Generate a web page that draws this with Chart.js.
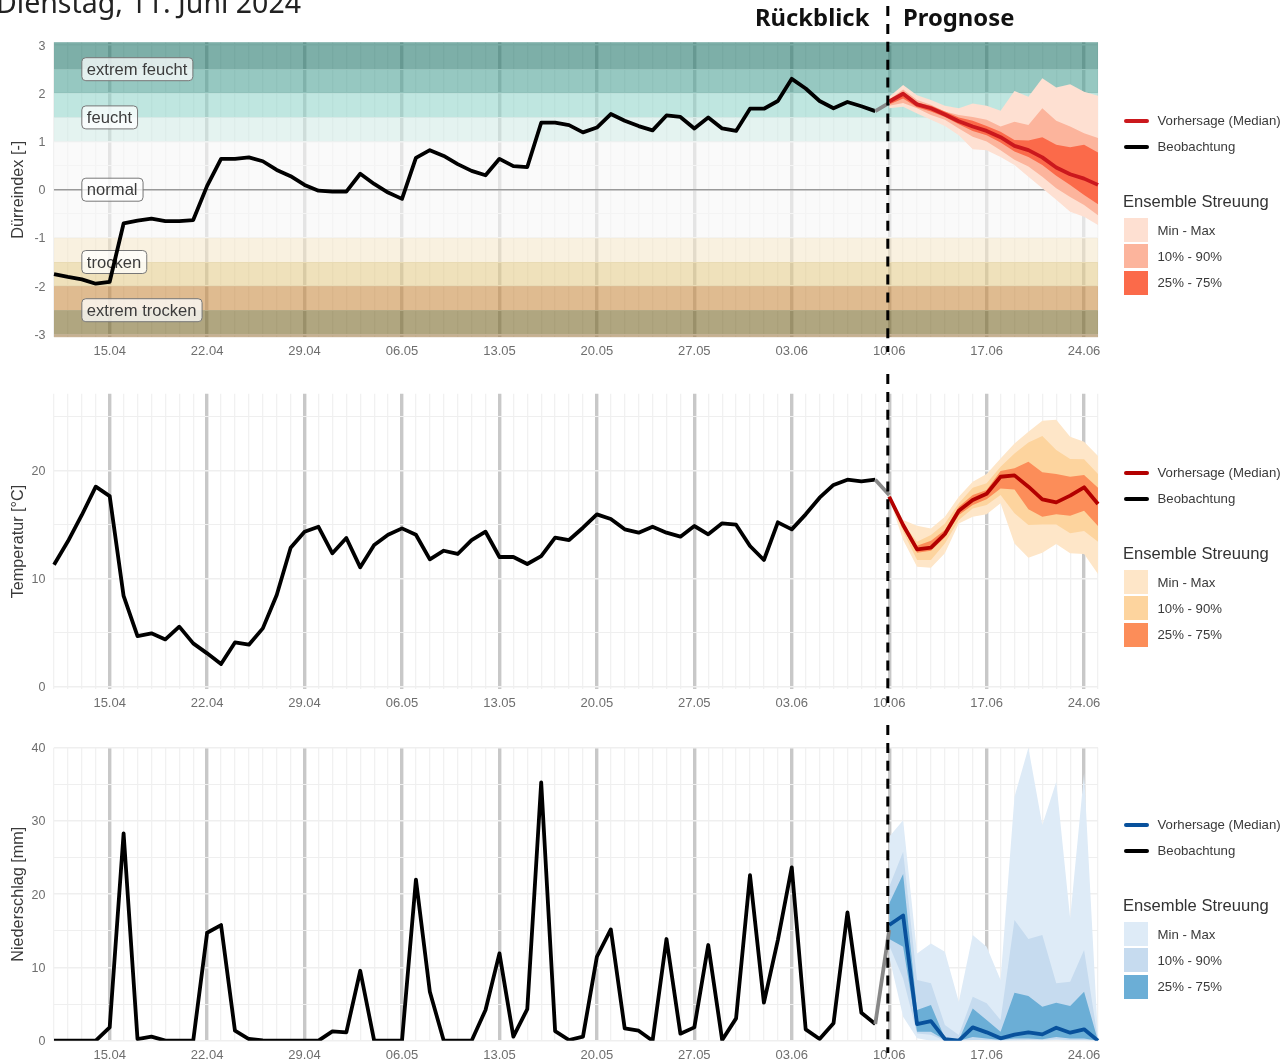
<!DOCTYPE html>
<html lang="de">
<head>
<meta charset="utf-8">
<title>Dürreindex</title>
<script src="https://cdn.jsdelivr.net/npm/chart.js@4/dist/chart.umd.min.js"></script>
<style>
html, body { margin: 0; padding: 0; background: #fff; }
body { width: 1281px; height: 1064px; position: relative; overflow: hidden; font-family: "Liberation Sans", sans-serif; }
canvas { position: absolute; left: 0; }
#title { position: absolute; left: -4px; top: -17px; font: 28.5px "Noto Sans", sans-serif; color: #222; white-space: nowrap; }
.head { position: absolute; top: 1px; font: bold 23.8px "Noto Sans", sans-serif; color: #111; white-space: nowrap; }
.lg { position: absolute; white-space: nowrap; color: #3a3a3a; font-size: 13.2px; line-height: 16px; }
.lgTitle { position: absolute; white-space: nowrap; color: #333; font-size: 16.6px; line-height: 20px; }
.lgLine { position: absolute; left: 1123.5px; width: 25px; height: 4px; border-radius: 2px; }
.lgBox { position: absolute; left: 1123.5px; width: 24.5px; height: 24px; }
</style>
</head>
<body>
<canvas id="droughtChart" width="1281" height="370" style="top:0"></canvas>
<canvas id="tempChart" width="1281" height="352" style="top:370px"></canvas>
<canvas id="rainChart" width="1281" height="342" style="top:722px"></canvas>
<div id="title">Dienstag, 11. Juni 2024</div>
<div class="head" style="left:755px">Rückblick</div>
<div class="head" style="left:903px">Prognose</div>
<script>
var days = ['11.04','12.04','13.04','14.04','15.04','16.04','17.04','18.04','19.04','20.04','21.04','22.04','23.04','24.04','25.04','26.04','27.04','28.04','29.04','30.04',
    '01.05','02.05','03.05','04.05','05.05','06.05','07.05','08.05','09.05','10.05','11.05','12.05','13.05','14.05','15.05','16.05','17.05','18.05','19.05','20.05',
    '21.05','22.05','23.05','24.05','25.05','26.05','27.05','28.05','29.05','30.05','31.05','01.06','02.06','03.06','04.06','05.06','06.06','07.06','08.06','09.06',
    '10.06','11.06','12.06','13.06','14.06','15.06','16.06','17.06','18.06','19.06','20.06','21.06','22.06','23.06','24.06','25.06'];
var weekTicks = ['15.04','22.04','29.04','06.05','13.05','20.05','27.05','03.06','10.06','17.06','24.06'];

// Duerreindex
var droughtObs = [-1.75,-1.81,-1.86,-1.95,-1.91,-0.70,-0.64,-0.60,-0.65,-0.65,-0.63,0.08,0.64,0.64,0.67,0.59,0.41,0.28,0.10,-0.02,
    -0.04,-0.04,0.33,0.12,-0.06,-0.19,0.66,0.82,0.70,0.53,0.39,0.30,0.64,0.49,0.47,1.39,1.39,1.34,1.19,1.29,
    1.57,1.43,1.32,1.23,1.54,1.51,1.27,1.50,1.27,1.22,1.68,1.68,1.84,2.30,2.10,1.84,1.69,1.82,1.73,1.63,1.80];
var droughtMedian = [1.83,1.99,1.77,1.69,1.56,1.42,1.31,1.22,1.09,0.91,0.82,0.67,0.46,0.32,0.23,0.10];
var droughtMax = [1.93,2.17,1.96,1.86,1.74,1.69,1.79,1.74,1.64,2.05,1.93,2.31,2.12,2.19,2.03,1.95];
var droughtMin = [1.69,1.72,1.58,1.45,1.32,1.13,0.84,0.82,0.68,0.51,0.27,0.03,-0.21,-0.46,-0.56,-0.73];
var droughtP90 = [1.87,2.08,1.86,1.76,1.62,1.55,1.51,1.45,1.31,1.41,1.34,1.69,1.43,1.31,1.17,1.07];
var droughtP10 = [1.74,1.80,1.69,1.55,1.45,1.27,1.10,1.00,0.82,0.62,0.48,0.27,0.03,-0.15,-0.32,-0.53];
var droughtP75 = [1.84,2.03,1.81,1.74,1.62,1.50,1.43,1.32,1.20,1.03,1.02,1.09,0.93,0.88,0.93,0.77];
var droughtP25 = [1.77,1.89,1.71,1.62,1.51,1.36,1.22,1.13,0.98,0.79,0.68,0.51,0.29,0.10,-0.11,-0.30];

var bandEdges = [3.06,2.5,2,1.5,1,-1,-1.5,-2,-2.5,-3,-3.06];
var bandColors = ['rgba(38,122,110,.6)','rgba(80,163,152,.6)','rgba(148,213,203,.6)','rgba(210,235,230,.6)','rgba(247,247,247,.6)',
    'rgba(245,232,203,.6)','rgba(228,205,142,.6)','rgba(202,142,70,.6)','rgba(123,107,43,.6)','rgba(165,128,77,.6)'];
var bandLabels = ['extrem feucht','feucht','normal','trocken','extrem trocken'];
var bandLabelValues = [2.5,1.5,0,-1.5,-2.5];

// Temperatur
var tempObs = [11.3,13.46,15.9,18.52,17.65,8.4,4.69,4.94,4.38,5.56,4.01,3.09,2.10,4.10,3.89,5.40,8.49,12.87,14.35,14.81,
    12.35,13.77,11.05,13.12,14.07,14.66,14.07,11.79,12.59,12.29,13.58,14.35,12.01,12.01,11.36,12.10,13.8,13.58,14.72,15.96,
    15.53,14.57,14.26,14.81,14.26,13.89,14.88,14.11,15.13,15.0,13.03,11.73,15.22,14.57,15.96,17.5,18.68,19.17,19.02,19.17,17.75];
var tempMedian = [17.59,14.97,12.72,12.87,14.14,16.3,17.28,17.87,19.44,19.57,18.52,17.35,17.07,17.69,18.46,16.91];
var tempMax = [17.9,15.43,14.91,14.66,15.74,17.59,18.98,19.69,21.14,22.53,23.61,24.63,24.72,23.15,22.69,21.36];
var tempMin = [17.44,13.58,11.11,11.02,12.35,15.12,15.74,15.96,16.98,13.27,11.94,12.41,13.21,12.35,12.28,10.43];
var tempP90 = [17.75,15.12,13.43,14.04,15.12,16.98,18.43,18.83,20.37,21.6,22.62,23.21,21.91,21.08,21.05,19.69];
var tempP10 = [17.53,14.35,11.73,11.73,13.27,15.43,16.51,16.82,17.75,16.05,14.97,15.03,15.03,14.2,14.41,13.43];
var tempP75 = [17.69,15.06,13.06,13.52,14.51,16.67,17.75,18.21,19.97,20.22,20.83,19.85,19.69,19.44,19.6,18.43];
var tempP25 = [17.53,14.6,12.41,12.59,13.83,15.9,16.82,17.35,18.36,18.27,16.42,15.74,15.96,15.83,16.3,14.88];

// Niederschlag
var rainObs = [0,0,0,0,1.82,28.3,0.23,0.55,0,0,0,14.74,15.79,1.36,0.23,0.05,0,0,0,0,
    1.27,1.14,9.55,0,0,0,22.0,6.69,0,0,0,4.19,11.92,0.55,4.32,35.26,1.32,0.09,0.55,11.46,
    15.2,1.68,1.36,0,13.88,0.96,1.82,13.06,0.09,3.05,22.6,5.19,13.74,23.66,1.55,0.23,2.37,17.52,3.82,2.27,15.1];
var rainMedian = [15.79,17.1,2.27,2.68,0.23,0,1.82,1.14,0.32,0.82,1.14,0.86,1.77,1.09,1.55,0];
var rainMax = [27.84,30.1,11.92,13.28,12.15,5.32,14.42,12.83,8.28,33.3,40,29.44,35.35,16.7,36.5,0.3];
var rainMin = [11.46,3.28,0.32,0,0,0,0.2,0,0,0,0.05,0,0.1,0,0,0];
var rainP90 = [21.02,25.8,8.28,7.83,2.14,0.77,6.0,5.1,2.82,16.47,13.88,14.42,7.83,8.05,12.37,0.1];
var rainP10 = [13.0,8.5,1.0,0.8,0,0,0.1,0.1,0,0.05,0.1,0.1,0.2,0.1,0.1,0];
var rainP75 = [18.74,22.75,4.19,4.87,0.32,0.09,4.41,2.82,1.23,6.55,6.1,4.64,5.19,4.73,6.69,0];
var rainP25 = [13.88,12.83,1.23,1.23,0.1,0,0.5,0.3,0.1,0.3,0.3,0.2,0.5,0.3,0.3,0];

var legendRanges = ['Min - Max','10% - 90%','25% - 75%'];

Chart.defaults.font.family = '"Liberation Sans", sans-serif';
Chart.defaults.devicePixelRatio = 1;

// forecast arrays start on 10.06, so shift them along the date axis
var forecastStart = days.indexOf('10.06');
function fromForecast(values) {
    return new Array(forecastStart).fill(null).concat(values);
}

function lineSet(values, color) {
    return { data: values, borderColor: color, borderWidth: 3.8, pointRadius: 0, tension: 0, fill: false, borderJoinStyle: 'round' };
}

function ribbon(upper, lower, color) {
    return [
        { data: fromForecast(upper), borderWidth: 0, pointRadius: 0, tension: 0, backgroundColor: color, fill: '+1' },
        { data: fromForecast(lower), borderWidth: 0, pointRadius: 0, tension: 0, fill: false }
    ];
}

// zones and their labels for the drought panel, under all the lines
var bandsPlugin = {
    id: 'bands',
    beforeDatasetsDraw: function(chart) {
        var ctx = chart.ctx, y = chart.scales.y, x = chart.scales.x, area = chart.chartArea;
        ctx.save();
        bandColors.forEach(function(color, i) {
            var top = y.getPixelForValue(bandEdges[i]);
            ctx.fillStyle = color;
            ctx.fillRect(area.left, top, area.right - area.left, y.getPixelForValue(bandEdges[i + 1]) - top);
        });
        ctx.strokeStyle = '#999';
        ctx.lineWidth = 1.5;
        ctx.beginPath();
        ctx.moveTo(area.left, y.getPixelForValue(0));
        ctx.lineTo(area.right, y.getPixelForValue(0));
        ctx.stroke();

        ctx.font = '16.6px "Liberation Sans"';
        ctx.textBaseline = 'middle';
        bandLabels.forEach(function(label, i) {
            var left = x.getPixelForValue(days.indexOf('13.04'));
            var mid = y.getPixelForValue(bandLabelValues[i]);
            var w = ctx.measureText(label).width + 10.5;
            ctx.beginPath();
            ctx.roundRect(left, mid - 11.5, w, 23, 4);
            ctx.fillStyle = 'rgba(255,255,255,.75)';
            ctx.fill();
            ctx.strokeStyle = '#777';
            ctx.lineWidth = 1;
            ctx.stroke();
            ctx.fillStyle = '#3c3c3c';
            ctx.fillText(label, left + 5, mid + 1);
        });
        ctx.restore();
    }
};

// dashed "today" line, goes past the plot area on each panel
var todayPlugin = {
    id: 'today',
    afterDraw: function(chart, args, opts) {
        var ctx = chart.ctx;
        var px = chart.scales.x.getPixelForValue(days.indexOf('10.06') - 0.1);
        ctx.save();
        ctx.strokeStyle = '#000';
        ctx.lineWidth = 3;
        ctx.setLineDash([10, 7.9]);
        ctx.beginPath();
        ctx.moveTo(px, opts.from);
        ctx.lineTo(px, opts.to);
        ctx.stroke();
        ctx.restore();
    }
};

function makePanel(id, p) {
    var datasets = [
        lineSet(fromForecast(p.median), p.medianColor),
        lineSet(p.obs, '#000')
    ];
    datasets[1].segment = {
        borderColor: function(ctx) {
            return ctx.p0DataIndex === forecastStart - 1 ? '#888' : undefined;
        }
    };
    datasets = datasets
        .concat(ribbon(p.p75, p.p25, p.colors[2]))
        .concat(ribbon(p.p90, p.p10, p.colors[1]))
        .concat(ribbon(p.max, p.min, p.colors[0]));

    return new Chart(document.getElementById(id), {
        type: 'line',
        data: { labels: days, datasets: datasets },
        plugins: p.bands ? [bandsPlugin, todayPlugin] : [todayPlugin],
        options: {
            responsive: false,
            animation: false,
            events: [],
            layout: { autoPadding: false, padding: { top: p.top, right: 183, left: 0, bottom: 0 } },
            plugins: {
                legend: { display: false },
                tooltip: { enabled: false },
                today: { from: p.dashFrom, to: p.dashTo }
            },
            scales: {
                x: {
                    type: 'category',
                    offset: false,
                    afterFit: function(scale) { scale.height = p.axisHeight; },
                    border: { display: false },
                    grid: {
                        drawTicks: false,
                        color: function(c) {
                            return weekTicks.indexOf(days[c.index]) >= 0 ? '#c8c8c8' : '#f1f1f1';
                        },
                        lineWidth: function(c) {
                            return weekTicks.indexOf(days[c.index]) >= 0 ? 3.4 : 1.3;
                        }
                    },
                    ticks: {
                        autoSkip: false,
                        maxRotation: 0,
                        padding: p.tickPad,
                        color: '#6e6e6e',
                        font: { size: 13 },
                        callback: function(value) {
                            var label = this.getLabelForValue(value);
                            return weekTicks.indexOf(label) >= 0 ? label : '';
                        }
                    }
                },
                y: {
                    min: p.min_y,
                    max: p.max_y,
                    afterFit: function(scale) { scale.width = 54; },
                    border: { display: false },
                    title: { display: true, text: p.title, color: '#3a3a3a', font: { size: 16.2 }, padding: { top: 9, bottom: 0 } },
                    grid: {
                        drawTicks: false,
                        color: '#efefef',
                        lineWidth: function(c) {
                            return c.tick && c.tick.value % p.labelStep === 0 ? 1.6 : 1;
                        }
                    },
                    ticks: {
                        stepSize: p.step,
                        includeBounds: false,
                        autoSkip: false,
                        padding: 8.5,
                        labelOffset: 1,
                        color: '#6e6e6e',
                        font: { size: 12.5 },
                        callback: function(value) {
                            return value % p.labelStep === 0 ? String(value) : '';
                        }
                    }
                }
            }
        }
    });
}

makePanel('droughtChart', {
    obs: droughtObs, median: droughtMedian, max: droughtMax, min: droughtMin,
    p90: droughtP90, p10: droughtP10, p75: droughtP75, p25: droughtP25,
    medianColor: '#cb181d', colors: ['#fee0d2', '#fcb49c', '#fb6a4a'],
    title: 'Dürreindex [-]', bands: true,
    min_y: -3.06, max_y: 3.06, step: 0.5, labelStep: 1,
    top: 42.2, axisHeight: 32.8, tickPad: 6, dashFrom: 6, dashTo: 352
});
makePanel('tempChart', {
    obs: tempObs, median: tempMedian, max: tempMax, min: tempMin,
    p90: tempP90, p10: tempP10, p75: tempP75, p25: tempP25,
    medianColor: '#b30000', colors: ['#fee6c8', '#fdd49e', '#fc8d59'],
    title: 'Temperatur [°C]',
    min_y: -0.24, max_y: 27.13, step: 5, labelStep: 10,
    top: 23.7, axisHeight: 32.7, tickPad: 6, dashFrom: 4, dashTo: 333
});
makePanel('rainChart', {
    obs: rainObs, median: rainMedian, max: rainMax, min: rainMin,
    p90: rainP90, p10: rainP10, p75: rainP75, p25: rainP25,
    medianColor: '#08519c', colors: ['#deebf7', '#c6dbef', '#6baed6'],
    title: 'Niederschlag [mm]',
    min_y: 0, max_y: 40, step: 5, labelStep: 10,
    top: 25.7, axisHeight: 23.3, tickPad: 6.5, dashFrom: 3, dashTo: 331
});

// one legend block per panel, all the same shape
function addLegend(top, medianColor, colors) {
    function add(cls, css, text) {
        var el = document.createElement('div');
        el.className = cls;
        el.style.cssText = css;
        if (text) el.textContent = text;
        document.body.appendChild(el);
    }
    add('lgLine', 'top:' + (top + 118.5) + 'px;background:' + medianColor);
    add('lg', 'left:1157.5px;top:' + (top + 112.5) + 'px', 'Vorhersage (Median)');
    add('lgLine', 'top:' + (top + 145) + 'px;background:#000');
    add('lg', 'left:1157.5px;top:' + (top + 139) + 'px', 'Beobachtung');
    add('lgTitle', 'left:1123px;top:' + (top + 191.5) + 'px', 'Ensemble Streuung');
    legendRanges.forEach(function(label, i) {
        add('lgBox', 'top:' + (top + 218 + i * 26.3) + 'px;background:' + colors[i]);
        add('lg', 'left:1157.5px;top:' + (top + 222.5 + i * 26.3) + 'px', label);
    });
}
addLegend(0, '#cb181d', ['#fee0d2', '#fcb49c', '#fb6a4a']);
addLegend(352, '#b30000', ['#fee6c8', '#fdd49e', '#fc8d59']);
addLegend(704, '#08519c', ['#deebf7', '#c6dbef', '#6baed6']);
</script>
</body>
</html>
